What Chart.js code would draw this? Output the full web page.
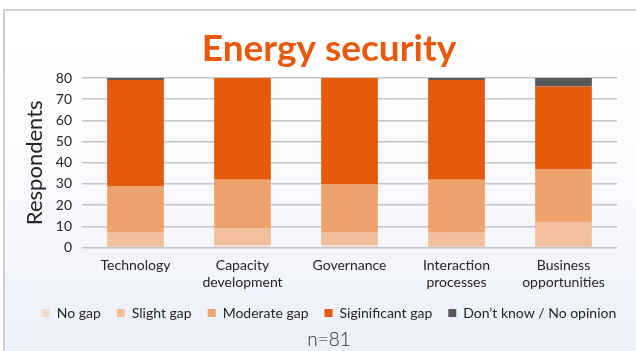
<!DOCTYPE html>
<html>
<head>
<meta charset="utf-8">
<title>Energy security</title>
<script src="https://cdn.jsdelivr.net/npm/chart.js@4.4.1/dist/chart.umd.min.js"></script>
<style>
    html, body {
        margin: 0;
        padding: 0;
        background: #ffffff;
        overflow: hidden;
    }
    .panel {
        position: absolute;
        left: 3px;
        top: 9px;
        width: 640px;
        height: 350px;
        border-left: 2px solid #cfcfcf;
        border-top: 2px solid #cfcfcf;
        background: linear-gradient(#ffffff 0%, #fbfbfe 45%, #eceff9 100%);
    }
    #chart {
        position: absolute;
        left: 0;
        top: 0;
    }
</style>
</head>
<body>
<div class="panel"></div>
<canvas id="chart" width="636" height="351"></canvas>
<script>
// ========================================
// DATA
// ========================================

const categories = [
    'Technology',
    ['Capacity', 'development'],
    'Governance',
    ['Interaction', 'processes'],
    ['Business', 'opportunities']
];

const seriesNames = ['No gap', 'Slight gap', 'Moderate gap', 'Siginificant gap', 'Don\u2019t know / No opinion'];

const noGap = [0, 1, 1, 0, 0];
const slightGap = [7, 8, 6, 7, 12];
const moderateGap = [22, 23, 23, 25, 25];
const significantGap = [50, 48, 50, 47, 39];
const dontKnow = [1, 0, 0, 1, 4];

const yTicks = [0, 10, 20, 30, 40, 50, 60, 70, 80];

const seriesColors = ['#F3DBCE', '#F1BF9B', '#EEA36C', '#E65A0C', '#585858'];

// ========================================
// CHART
// ========================================

document.addEventListener('DOMContentLoaded', () => {
    const ctx = document.getElementById('chart').getContext('2d');
    const textColor = '#262626';
    const baseFont = 'Lato, "Open Sans", sans-serif';

    const values = [noGap, slightGap, moderateGap, significantGap, dontKnow];

    new Chart(ctx, {
        type: 'bar',
        data: {
            labels: categories,
            datasets: values.map((data, i) => ({
                label: seriesNames[i],
                data: data,
                backgroundColor: seriesColors[i],
                borderWidth: 0,
                barPercentage: 0.53,
                categoryPercentage: 1.0,
                yAxisID: 'y'
            }))
        },
        options: {
            responsive: false,
            animation: false,
            layout: {
                padding: { left: 22, right: 0, top: 0, bottom: 0 }
            },
            plugins: {
                title: {
                    display: true,
                    text: 'Energy security',
                    color: '#E8590C',
                    font: { family: baseFont, size: 37, weight: '700', lineHeight: 1 },
                    padding: { top: 31, bottom: 10 }
                },
                subtitle: {
                    display: true,
                    position: 'bottom',
                    text: 'n=81',
                    color: textColor,
                    font: { family: baseFont, size: 19, weight: '300', lineHeight: 1 },
                    padding: { top: 0, bottom: 2 }
                },
                legend: {
                    position: 'bottom',
                    labels: {
                        color: textColor,
                        boxWidth: 8,
                        boxHeight: 8,
                        padding: 16,
                        font: { family: baseFont, size: 14 }
                    }
                },
                tooltip: { enabled: false }
            },
            scales: {
                x: {
                    stacked: true,
                    grid: { display: false, drawTicks: false },
                    border: { display: false },
                    ticks: {
                        color: textColor,
                        padding: 9,
                        maxRotation: 0,
                        font: { family: baseFont, size: 14, lineHeight: 1.22 }
                    },
                    afterFit(scale) {
                        scale.height = 42.5;
                    }
                },
                y: {
                    stacked: true,
                    min: 0,
                    max: 80,
                    grid: {
                        color: '#c4c4c4',
                        lineWidth: 1.5,
                        drawTicks: false
                    },
                    border: { display: false },
                    ticks: {
                        stepSize: 10,
                        color: textColor,
                        padding: 10,
                        font: { family: baseFont, size: 14 },
                        callback: (value) => yTicks.includes(value) ? value : ''
                    },
                    title: {
                        display: true,
                        text: 'Respondents',
                        color: textColor,
                        font: { family: baseFont, size: 22 },
                        padding: { top: 0, bottom: 0 }
                    },
                    afterFit(scale) {
                        scale.width = 60;
                    }
                },
                // empty axis that keeps the plot clear of the right edge
                yRight: {
                    position: 'right',
                    display: true,
                    grid: { display: false, drawTicks: false },
                    border: { display: false },
                    ticks: { display: false },
                    afterFit(scale) {
                        scale.width = 19;
                    }
                }
            }
        }
    });
});
</script>
</body>
</html>
